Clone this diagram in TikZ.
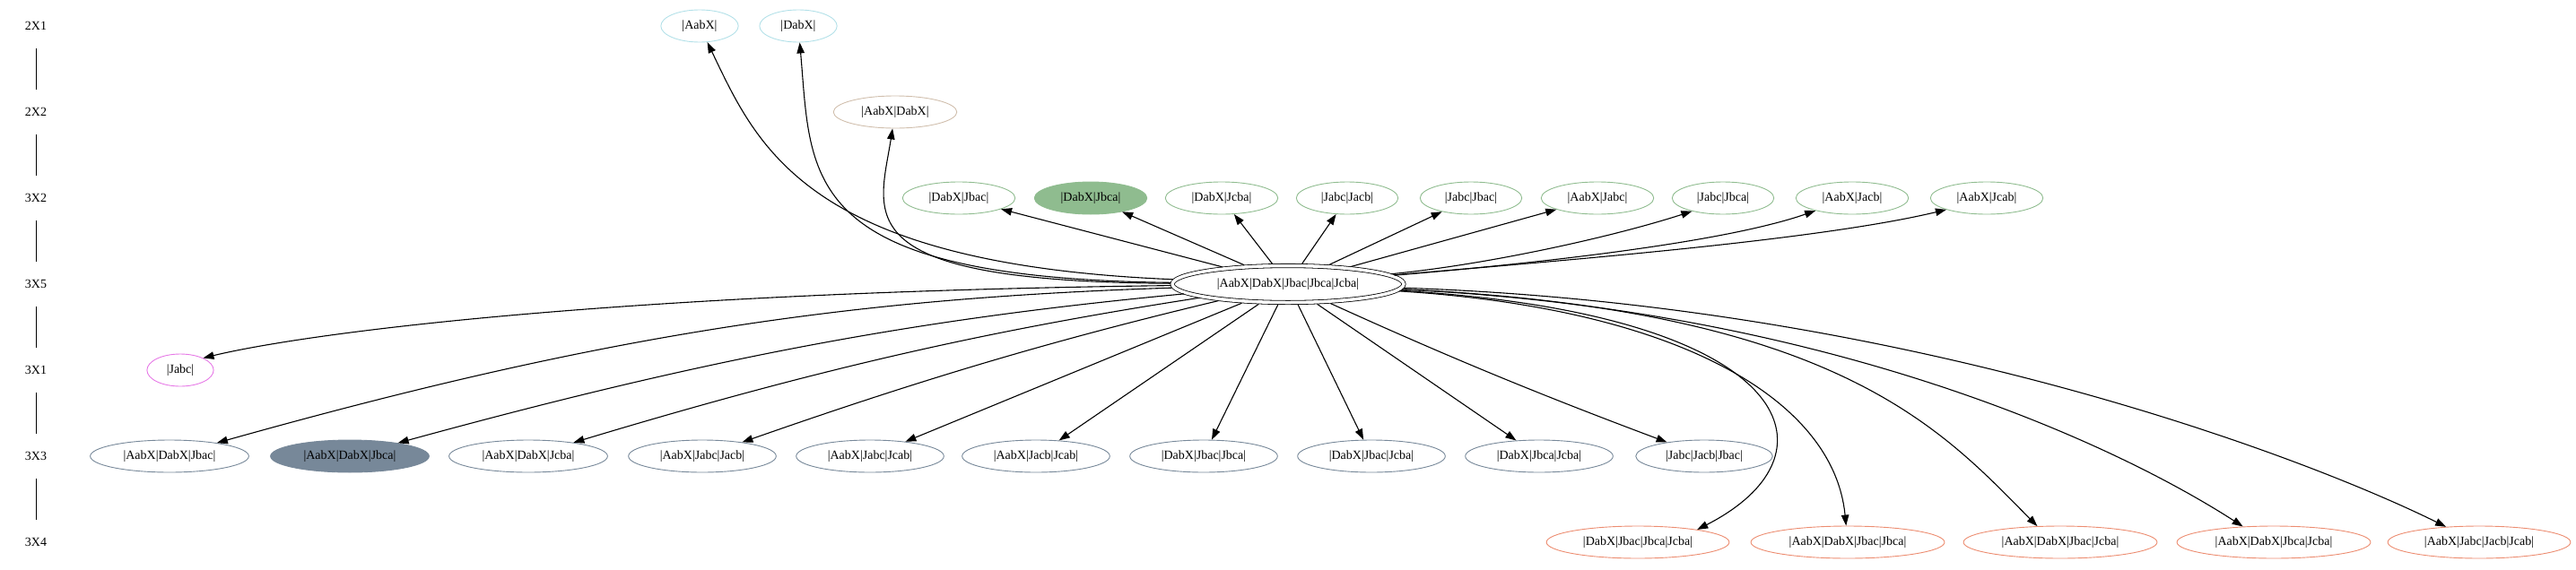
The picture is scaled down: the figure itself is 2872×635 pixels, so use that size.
\documentclass[tikz,border=0pt]{standalone}
\usepackage{fontspec}
\setmainfont{Liberation Serif}
\usetikzlibrary{shapes,arrows.meta}

\definecolor{pblue}{RGB}{178,224,232}
\definecolor{ptan}{RGB}{208,190,172}
\definecolor{pgreen}{RGB}{143,188,143}
\definecolor{pviolet}{RGB}{230,120,230}
\definecolor{pslate}{RGB}{119,136,153}
\definecolor{psalmon}{RGB}{236,140,112}

\begin{document}
\begin{tikzpicture}[x=1pt,y=-1pt,>={Triangle[length=12pt,width=8.5pt]}]
	\tikzset{st/.style={ellipse,draw,line width=0.9pt,minimum width=54pt,minimum height=36pt,inner xsep=11pt,inner ysep=3pt,font=\fontsize{14}{16}\selectfont},
		lev/.style={minimum height=50pt,font=\fontsize{14}{16}\selectfont},
		mid/.style={st,double,double distance=3.5pt,line width=0.8pt,minimum height=41pt,inner xsep=12pt,outer sep=2.6pt},
		arr/.style={->,line width=1.1pt}}
	\useasboundingbox (0,0) rectangle (2872,635);
	
	\foreach \t/\y [count=\i] in {2X1/29,2X2/125,3X2/221,3X5/317,3X1/413,3X3/509,3X4/605}
	\node (r\i) at (40,\y) [lev] {\t};
	\foreach \i/\j in {1/2,2/3,3/4,4/5,5/6,6/7}
	\draw [line width=0.9pt] (r\i) -- (r\j);
	
	\node (p1) at (780,29) [st,draw=pblue] {|AabX|};
	\node (p2) at (890,29) [st,draw=pblue] {|DabX|};
	\node (q1) at (998,125) [st,draw=ptan] {|AabX|DabX|};
	\foreach \x/\t/\f [count=\i] in {1069/|DabX|Jbac|/white,1216/|DabX|Jbca|/pgreen,1362/|DabX|Jcba|/white,1502/|Jabc|Jacb|/white,1640/|Jabc|Jbac|/white,1781/|AabX|Jabc|/white,1921/|Jabc|Jbca|/white,2065/|AabX|Jacb|/white,2215/|AabX|Jcab|/white}
	\node (s\i) at (\x,221) [st,draw=pgreen,fill=\f] {\t};
	\node (c) at (1436,317) [mid] {|AabX|DabX|Jbac|Jbca|Jcba|};
	\node (t1) at (201,413) [st,draw=pviolet] {|Jabc|};
	\foreach \x/\t/\f [count=\i] in {189/|AabX|DabX|Jbac|/white,390/|AabX|DabX|Jbca|/pslate,589/|AabX|DabX|Jcba|/white,783/|AabX|Jabc|Jacb|/white,970/|AabX|Jabc|Jcab|/white,1155/|AabX|Jacb|Jcab|/white,1342/|DabX|Jbac|Jbca|/white,1529/|DabX|Jbac|Jcba|/white,1716/|DabX|Jbca|Jcba|/white,1900/|Jabc|Jacb|Jbac|/white}
	\node (u\i) at (\x,509) [st,draw=pslate,fill=\f] {\t};
	\foreach \x/\t [count=\i] in {1826/|DabX|Jbac|Jbca|Jcba|,2060/|AabX|DabX|Jbac|Jbca|,2297/|AabX|DabX|Jbac|Jcba|,2535/|AabX|DabX|Jbca|Jcba|,2764/|AabX|Jabc|Jacb|Jcab|}
	\node (v\i) at (\x,605) [st,draw=psalmon] {\t};
	
	\draw [arr] (c) .. controls (900,295) and (845,165) .. (p1);
	\draw [arr] (c) .. controls (890,310) and (905,200) .. (p2);
	\draw [arr] (c) .. controls (940,314) and (980,240) .. (q1);
	\foreach \i in {1,...,6}
	\draw [arr] (c) -- (s\i);
	\draw [arr] (c) .. controls (1660,295) and (1799,264) .. (s7.203);
	\draw [arr] (c) .. controls (1700,295) and (1918,272) .. (s8.199);
	\draw [arr] (c) .. controls (1750,290) and (2027,268) .. (s9.196);
	\draw [arr] (c) .. controls (700,326) and (349,370) .. (t1.28);
	\draw [arr] (c) .. controls (940,333) and (666,375) .. (u1);
	\draw [arr] (c) .. controls (1021,356) and (791,399) .. (u2);
	\draw [arr] (c) .. controls (1100,369) and (914,411) .. (u3);
	\draw [arr] (c) .. controls (1177,379) and (1034,421) .. (u4);
	\foreach \i in {5,...,9}
	\draw [arr] (c) -- (u\i);
	\draw [arr] (c) .. controls (1614,398) and (1716,440) .. (u10);
	\draw [arr] (c) .. controls (2000,350) and (2060,505) .. (v1.12);
	\draw [arr] (c) .. controls (1880,345) and (2045,450) .. (v2);
	\draw [arr] (c) .. controls (2050,345) and (2165,480) .. (v3.145);
	\draw [arr] (c) .. controls (2030,345) and (2351,491) .. (v4.153);
	\draw [arr] (c) .. controls (2130,340) and (2574,512) .. (v5.155);
\end{tikzpicture}
\end{document}
